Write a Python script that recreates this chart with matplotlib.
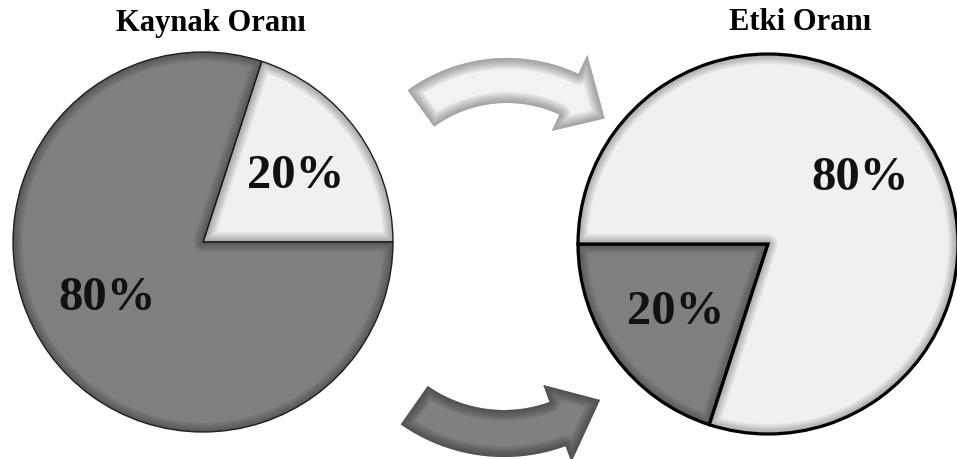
import numpy as np
import matplotlib.pyplot as plt
from matplotlib.patches import Polygon, PathPatch

plt.rcParams['font.family'] = ['Liberation Serif', 'DejaVu Serif']

# data
left_title = "Kaynak Oranı"
right_title = "Etki Oranı"
left_values = [20, 80]     # share of resources
right_values = [20, 80]    # share of effect
light = "#f0f0f0"
gray = "#7f7f7f"

fig = plt.figure(figsize=(9.57, 4.6), dpi=100)
ax = fig.add_axes([0, 0, 1, 1])
H = 460


def glow(patch, color, width, strength, z):
    # soft inner shading built from stacked strokes, clipped to the shape
    path = patch.get_path().transformed(patch.get_patch_transform())
    for lw in np.linspace(width, 1, 8):
        p = PathPatch(path, fill=False, edgecolor=color, lw=lw,
                      alpha=strength / 8, joinstyle='round', zorder=z)
        ax.add_patch(p)
        p.set_clip_path(patch)


# left pie
wl, tl, al = ax.pie(left_values, colors=[light, gray], startangle=0,
                    center=(203, H - 243), radius=190, frame=True,
                    autopct='%d%%', pctdistance=0.6,
                    wedgeprops=dict(edgecolor='#2a2a2a', linewidth=1.0),
                    textprops=dict(fontsize=35, fontweight='bold', color='#111111'))
al[1].set_position((107, H - 298))

# right pie
wr, tr, ar = ax.pie(right_values, colors=[gray, light], startangle=180,
                    center=(768, H - 245), radius=190, frame=True,
                    autopct='%d%%', pctdistance=0.6,
                    wedgeprops=dict(edgecolor='black', linewidth=2.3),
                    textprops=dict(fontsize=35, fontweight='bold', color='#111111'))

for w in list(wl) + list(wr):
    glow(w, '#000000', 14, 0.35, w.get_zorder() + 0.1)
for t in list(al) + list(ar):
    t.set_zorder(5)

ax.text(211, H - 23, left_title, ha='center', va='center', fontsize=22, fontweight='bold')
ax.text(800, H - 23, right_title, ha='center', va='center', fontsize=22, fontweight='bold')


def curved_arrow(cx, cy, r_in, r_out, a0, a1, head_in, head_out, tip_r, tip_a):
    t = np.radians(np.linspace(a0, a1, 60))
    outer = np.column_stack([cx + r_out * np.cos(t), cy + r_out * np.sin(t)])
    inner = np.column_stack([cx + r_in * np.cos(t[::-1]), cy + r_in * np.sin(t[::-1])])
    ae = np.radians(a1)
    ta = np.radians(tip_a)
    head = np.array([
        [cx + head_out * np.cos(ae), cy + head_out * np.sin(ae)],
        [cx + tip_r * np.cos(ta), cy + tip_r * np.sin(ta)],
        [cx + head_in * np.cos(ae), cy + head_in * np.sin(ae)],
    ])
    return np.vstack([outer, head, inner])


# top arrow (light)
top = curved_arrow(507, H - 228, 124, 169, 126, 65, 106, 190, 146, 48)
p_top = Polygon(top, closed=True, facecolor='#f2f2f2', edgecolor='none', zorder=2)
ax.add_patch(p_top)
glow(p_top, '#404040', 16, 0.55, 2.1)

# bottom arrow (dark)
bot = curved_arrow(504, H - 278, 133, 180, 235, 290, 115, 197, 156, 308)
p_bot = Polygon(bot, closed=True, facecolor='#808080', edgecolor='none', zorder=2)
ax.add_patch(p_bot)
glow(p_bot, '#1a1a1a', 16, 0.55, 2.1)

ax.set_xlim(0, 957)
ax.set_ylim(0, H)
ax.set_aspect('equal')
ax.axis('off')

fig.savefig("out.png", dpi=100)
